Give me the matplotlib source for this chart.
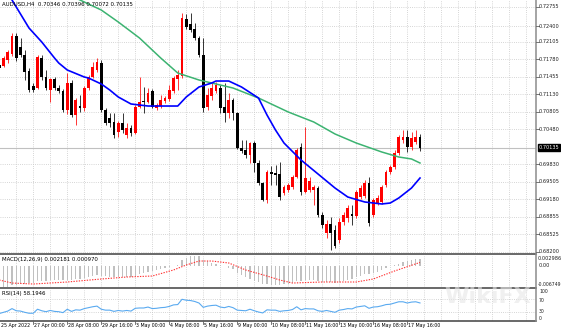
import matplotlib
matplotlib.use('Agg')
import matplotlib.pyplot as plt
from matplotlib.lines import Line2D

W, H = 561, 331

# AUDUSD H4, one entry per bar (oldest first)
opens = [0.71676, 0.71657, 0.71769, 0.71881, 0.72215, 0.72011, 0.71862, 0.71564, 0.71285, 0.71248,
         0.71806, 0.71453, 0.71211, 0.71416, 0.71248, 0.71192, 0.70839, 0.71341, 0.70746, 0.70913,
         0.70876, 0.71248, 0.71453, 0.71583, 0.71713, 0.70839, 0.70690, 0.70616, 0.70430, 0.70597,
         0.70374, 0.70504, 0.70411, 0.70895, 0.71006, 0.70988, 0.71192, 0.70876, 0.70913, 0.71006,
         0.71044, 0.71192, 0.71416, 0.71471, 0.72532, 0.72439, 0.72346, 0.72178, 0.71862, 0.70895,
         0.71099, 0.71192, 0.71248, 0.70895, 0.70783, 0.71025, 0.70783, 0.70132, 0.70095, 0.70002,
         0.70225, 0.69853, 0.69481, 0.69165, 0.69686, 0.69667, 0.69649, 0.69295, 0.69351, 0.69407,
         0.69593, 0.70151, 0.69314, 0.69351, 0.69351, 0.69388, 0.68886, 0.68551, 0.68719, 0.68607,
         0.68421, 0.68756, 0.68830, 0.68905, 0.68867, 0.69221, 0.69239, 0.69481, 0.68886, 0.69109,
         0.69128, 0.69444, 0.69686, 0.69779, 0.70039, 0.70281, 0.70337, 0.70151, 0.70244, 0.70346]
highs = [0.71732, 0.71843, 0.71955, 0.72271, 0.72271, 0.72178, 0.71955, 0.71620, 0.71341, 0.71862,
         0.71862, 0.71583, 0.71434, 0.71453, 0.71304, 0.71230, 0.71527, 0.71397, 0.71062, 0.71118,
         0.71285, 0.71490, 0.71732, 0.71806, 0.71769, 0.70876, 0.70783, 0.70783, 0.70634, 0.70783,
         0.70597, 0.70560, 0.70932, 0.71453, 0.71267, 0.71248, 0.71230, 0.70969, 0.71118, 0.71099,
         0.71304, 0.71471, 0.71583, 0.72643, 0.72625, 0.72643, 0.72457, 0.72215, 0.72178, 0.71248,
         0.71341, 0.71360, 0.71304, 0.71341, 0.71155, 0.71062, 0.70802, 0.70281, 0.70281, 0.70244,
         0.70262, 0.69909, 0.69500, 0.69723, 0.69797, 0.69816, 0.69872, 0.69444, 0.69481, 0.69630,
         0.70132, 0.70225, 0.70523, 0.69593, 0.69444, 0.69425, 0.68942, 0.68793, 0.68849, 0.68700,
         0.68830, 0.68942, 0.69072, 0.69072, 0.69351, 0.69444, 0.69537, 0.69593, 0.69202, 0.69258,
         0.69444, 0.69723, 0.69816, 0.70095, 0.70374, 0.70467, 0.70467, 0.70430, 0.70467, 0.70396]
lows = [0.71583, 0.71639, 0.71713, 0.71843, 0.71750, 0.71825, 0.71397, 0.71174, 0.71174, 0.71230,
        0.71397, 0.71211, 0.70988, 0.71211, 0.71155, 0.70802, 0.70765, 0.70709, 0.70560, 0.70802,
        0.70820, 0.71211, 0.71434, 0.71546, 0.70802, 0.70560, 0.70523, 0.70318, 0.70337, 0.70411,
        0.70318, 0.70355, 0.70393, 0.70876, 0.70783, 0.70969, 0.70876, 0.70839, 0.70876, 0.70969,
        0.71006, 0.71155, 0.71211, 0.71434, 0.72346, 0.72290, 0.72141, 0.71825, 0.70802, 0.70839,
        0.71025, 0.71155, 0.70783, 0.70616, 0.70690, 0.70653, 0.70114, 0.70039, 0.69946, 0.69853,
        0.69686, 0.69444, 0.69146, 0.69109, 0.69444, 0.69444, 0.69165, 0.69258, 0.69314, 0.69370,
        0.69574, 0.69258, 0.69295, 0.69314, 0.69072, 0.68849, 0.68644, 0.68458, 0.68235, 0.68272,
        0.68365, 0.68700, 0.68756, 0.68700, 0.68830, 0.69184, 0.69202, 0.68681, 0.68849, 0.69072,
        0.69091, 0.69407, 0.69649, 0.69742, 0.70002, 0.70225, 0.70058, 0.70095, 0.70207, 0.70072]
closes = [0.71620, 0.71806, 0.71918, 0.72215, 0.71806, 0.71862, 0.71546, 0.71211, 0.71211, 0.71825,
          0.71453, 0.71248, 0.71416, 0.71248, 0.71192, 0.70839, 0.71341, 0.70746, 0.71025, 0.70876,
          0.71248, 0.71453, 0.71639, 0.71732, 0.70839, 0.70597, 0.70597, 0.70374, 0.70597, 0.70467,
          0.70504, 0.70411, 0.70895, 0.70988, 0.70988, 0.71155, 0.70895, 0.70932, 0.71025, 0.71062,
          0.71211, 0.71434, 0.71490, 0.72550, 0.72383, 0.72327, 0.72178, 0.71862, 0.70876, 0.71118,
          0.71248, 0.71304, 0.70876, 0.70783, 0.71025, 0.70783, 0.70132, 0.70076, 0.70002, 0.70225,
          0.69853, 0.69481, 0.69165, 0.69686, 0.69649, 0.69630, 0.69221, 0.69407, 0.69444, 0.69593,
          0.70095, 0.69314, 0.69574, 0.69518, 0.69407, 0.68886, 0.68700, 0.68719, 0.68551, 0.68309,
          0.68756, 0.68886, 0.69016, 0.68867, 0.69314, 0.69388, 0.69481, 0.68737, 0.69165, 0.69202,
          0.69407, 0.69686, 0.69779, 0.70039, 0.70337, 0.70337, 0.70151, 0.70318, 0.70337, 0.70135]

# moving averages (bar index, value)
ma_fast_bars = [2, 3, 5, 7, 10, 13, 14, 16, 20, 21, 24, 26, 28, 31, 35, 42, 44, 47, 50, 51,
                54, 57, 61, 63, 65, 67, 71, 75, 79, 82, 86, 90, 92, 94, 97, 99]
ma_fast_vals = [0.73060, 0.72885, 0.72625, 0.72364, 0.72104, 0.71806, 0.71713, 0.71583, 0.71453, 0.71434,
                0.71323, 0.71211, 0.71081, 0.70951, 0.70913, 0.70913, 0.71081, 0.71267, 0.71341, 0.71378,
                0.71378, 0.71267, 0.71062, 0.70746, 0.70467, 0.70225, 0.69909, 0.69649, 0.69388, 0.69221,
                0.69128, 0.69091, 0.69109, 0.69202, 0.69388, 0.69574]
ma_slow_bars = [17, 19, 24, 28, 33, 38, 42, 47, 52, 55, 61, 68, 74, 79, 84, 90, 94, 97, 99]
ma_slow_vals = [0.72960, 0.72885, 0.72699, 0.72476, 0.72178, 0.71806, 0.71527, 0.71397, 0.71304, 0.71248,
                0.71062, 0.70802, 0.70616, 0.70393, 0.70225, 0.70058, 0.69965, 0.69928, 0.69853]

# MACD(12,26,9): main as histogram, signal as dotted line
macd_main = [-0.0067, -0.0067, -0.0066, -0.0062, -0.0060, -0.0058, -0.0057, -0.0056, -0.0054, -0.0050,
             -0.0049, -0.0048, -0.0047, -0.0046, -0.0046, -0.0047, -0.0044, -0.0044, -0.0043, -0.0042,
             -0.0040, -0.0037, -0.0034, -0.0030, -0.0032, -0.0034, -0.0036, -0.0037, -0.0037, -0.0037,
             -0.0036, -0.0036, -0.0032, -0.0027, -0.0024, -0.0020, -0.0018, -0.0015, -0.0012, -0.0009,
             -0.0005, -0.0001, 0.0002, 0.0016, 0.0024, 0.0029, 0.0030, 0.0029, 0.0018, 0.0013,
             0.0009, 0.0006, 0.0002, -0.0003, -0.0008, -0.0012, -0.0022, -0.0030, -0.0036, -0.0042,
             -0.0049, -0.0052, -0.0057, -0.0059, -0.0060, -0.0061, -0.0060, -0.0059, -0.0057, -0.0054,
             -0.0050, -0.0049, -0.0047, -0.0046, -0.0046, -0.0048, -0.0051, -0.0052, -0.0053, -0.0055,
             -0.0053, -0.0050, -0.0046, -0.0043, -0.0037, -0.0033, -0.0028, -0.0027, -0.0023, -0.0019,
             -0.0014, -0.0008, -0.0003, 0.0002, 0.0006, 0.0010, 0.0014, 0.0017, 0.0020, 0.002181]
macd_sig_bars = [0, 3, 8, 16, 24, 30, 36, 41, 44, 47, 50, 54, 58, 63, 66, 69, 76, 84, 88, 93, 99]
macd_sig_vals = [-0.00455, -0.00550, -0.00581, -0.00518, -0.00424, -0.00361, -0.00330, -0.00141, 0.00016,
                 0.00141, 0.00141, 0.00079, -0.00141, -0.00330, -0.00455, -0.00550, -0.00518, -0.00518,
                 -0.00424, -0.00173, 0.00097]

# RSI(14)
rsi = [24, 28, 32, 40, 33, 32, 28, 25, 25, 38, 33, 30, 34, 31, 30, 27, 38, 31, 36, 35,
       40, 43, 46, 48, 38, 35, 35, 31, 34, 32, 34, 32, 41, 42, 42, 45, 40, 41, 43, 44,
       47, 52, 53, 70, 67, 66, 63, 58, 44, 48, 50, 51, 45, 43, 47, 43, 35, 34, 33, 38,
       33, 29, 26, 36, 35, 35, 31, 33, 34, 37, 46, 36, 40, 39, 39, 33, 31, 34, 31, 28,
       35, 37, 40, 39, 45, 47, 49, 41, 45, 46, 49, 53, 54, 58, 62, 62, 58, 61, 62, 58.1946]

price_ticks = [0.72755, 0.72400, 0.72105, 0.71780, 0.71455, 0.71130, 0.70805,
               0.70480, 0.69830, 0.69505, 0.69180, 0.68855, 0.68525, 0.68200]
time_labels = ['27 Apr 00:00', '28 Apr 08:00', '29 Apr 16:00', '3 May 00:00', '4 May 08:00',
               '5 May 16:00', '9 May 00:00', '10 May 08:00', '11 May 16:00', '13 May 00:00',
               '16 May 08:00', '17 May 16:00']
time_label_bars = [8, 16, 24, 32, 40, 48, 56, 64, 72, 80, 88, 96]

plt.rcParams['font.family'] = 'DejaVu Sans'
plt.rcParams['font.size'] = 3.6
TITLE_FS = 3.9
TIME_FS = 3.45

BAR_PX = 4.25
X0_PX = -0.75
AXIS_X = 536
PRICE_TOP = 0.72885
PRICE_PER_PX = 0.000186


def px_box(x0, y0, x1, y1):
    return [x0 / W, 1 - y1 / H, (x1 - x0) / W, (y1 - y0) / H]


def fx(x):
    return x / W


def fy(y):
    return 1 - y / H


xlim = ((0 - X0_PX) / BAR_PX, (AXIS_X - X0_PX) / BAR_PX)
grid_kw = dict(color='#c8c8c8', lw=0.6, linestyle=(0, (1, 1.6)))

fig = plt.figure(figsize=(W / 100, H / 100), dpi=100)
fig.patch.set_facecolor('white')

ax = fig.add_axes(px_box(0, 0, AXIS_X, 253))
ax_macd = fig.add_axes(px_box(0, 256, AXIS_X, 287))
ax_rsi = fig.add_axes(px_box(0, 290, AXIS_X, 321))

for a in (ax, ax_macd, ax_rsi):
    a.set_xlim(*xlim)
    a.set_xticks([])
    a.set_yticks([])
    for s in a.spines.values():
        s.set_visible(False)
    for g in range(0, 130, 4):
        a.axvline(g, zorder=0, **grid_kw)

# main price window
ax.set_ylim(PRICE_TOP - PRICE_PER_PX * 253, PRICE_TOP)
for p in price_ticks:
    ax.axhline(p, zorder=0, **grid_kw)
ax.axhline(closes[-1], color='#c0c0c0', lw=0.8, zorder=0.5)

for j, (o, h, l, c) in enumerate(zip(opens, highs, lows, closes)):
    col = '#ff0000' if c > o else '#000000'
    ax.vlines(j, l, h, color=col, lw=0.55, zorder=2)
    ax.bar(j, max(abs(c - o), 0.00019), bottom=min(o, c), width=0.68,
           color=col, lw=0, zorder=3)

ax.plot(ma_slow_bars, ma_slow_vals, color='#3cb371', lw=1.1, zorder=4)
ax.plot(ma_fast_bars, ma_fast_vals, color='#0000ff', lw=1.2, zorder=4)

# MACD window
ax_macd.set_ylim(-0.006749, 0.002986)
ax_macd.bar(range(len(macd_main)), macd_main, width=0.3, color='#c0c0c0', lw=0, zorder=1)
ax_macd.plot(macd_sig_bars, macd_sig_vals, color='#ff3030', lw=0.8,
             linestyle=(0, (1.2, 1.2)), zorder=2)

# RSI window
ax_rsi.set_ylim(0, 100)
for lev in (30, 70):
    ax_rsi.axhline(lev, zorder=0, **grid_kw)
ax_rsi.plot(range(len(rsi)), rsi, color='#5aaaf0', lw=0.8, zorder=2)

# frame lines
line_kw = dict(transform=fig.transFigure, color='#404040', lw=1.1)
for yy in (254, 288, 321):
    fig.add_artist(Line2D([0, fx(AXIS_X)], [fy(yy), fy(yy)], **line_kw))
fig.add_artist(Line2D([fx(AXIS_X), fx(AXIS_X)], [fy(0), fy(321)],
                      transform=fig.transFigure, color='#8c8c8c', lw=1.1))

# price scale
for p in price_ticks:
    y = (PRICE_TOP - p) / PRICE_PER_PX
    fig.add_artist(Line2D([fx(AXIS_X), fx(AXIS_X + 3)], [fy(y), fy(y)],
                          transform=fig.transFigure, color='#606060', lw=0.6))
    fig.text(fx(539), fy(y), f'{p:.5f}', va='center', ha='left', color='#202020')
y_bid = (PRICE_TOP - closes[-1]) / PRICE_PER_PX
fig.text(fx(538.5), fy(y_bid), f'{closes[-1]:.5f}', va='center', ha='left', color='white',
         bbox=dict(boxstyle='square,pad=0.2', fc='black', ec='black'))

# indicator scales
fig.text(fx(538), fy(259), '0.002986', va='center', ha='left', color='#202020')
fig.text(fx(539), fy(265.5), '0.00', va='center', ha='left', color='#202020')
fig.text(fx(537.5), fy(284), '-0.006749', va='center', ha='left', color='#202020', fontsize=3.3)
for lev, yy in ((100, 291.3), (70, 300), (30, 311.7), (0, 318.8)):
    fig.text(fx(539), fy(yy), str(lev), va='center', ha='left', color='#202020', fontsize=3.3)

# window titles
fig.text(fx(2), fy(4.5), 'AUDUSD,H4  0.70346 0.70396 0.70072 0.70135', va='center', ha='left',
         fontsize=TITLE_FS)
fig.text(fx(2), fy(260), 'MACD(12,26,9) 0.002181 0.000970', va='center', ha='left', fontsize=TITLE_FS)
fig.text(fx(2), fy(293.5), 'RSI(14) 58.1946', va='center', ha='left', fontsize=TITLE_FS)

# time scale
fig.text(fx(1), fy(326), '25 Apr 2022', va='center', ha='left', fontsize=TIME_FS)
for b, lab in zip(time_label_bars, time_labels):
    xp = X0_PX + BAR_PX * b
    fig.add_artist(Line2D([fx(xp), fx(xp)], [fy(321), fy(324)],
                          transform=fig.transFigure, color='#606060', lw=0.6))
    fig.text(fx(xp + 1), fy(326), lab, va='center', ha='left', fontsize=TIME_FS)

# faint broker watermark
fig.text(fx(488), fy(297), 'WikiFX', fontsize=16, fontweight='bold', color='#e6e6e6',
         ha='center', va='center', alpha=0.6)

fig.savefig('out.png', dpi=100)
